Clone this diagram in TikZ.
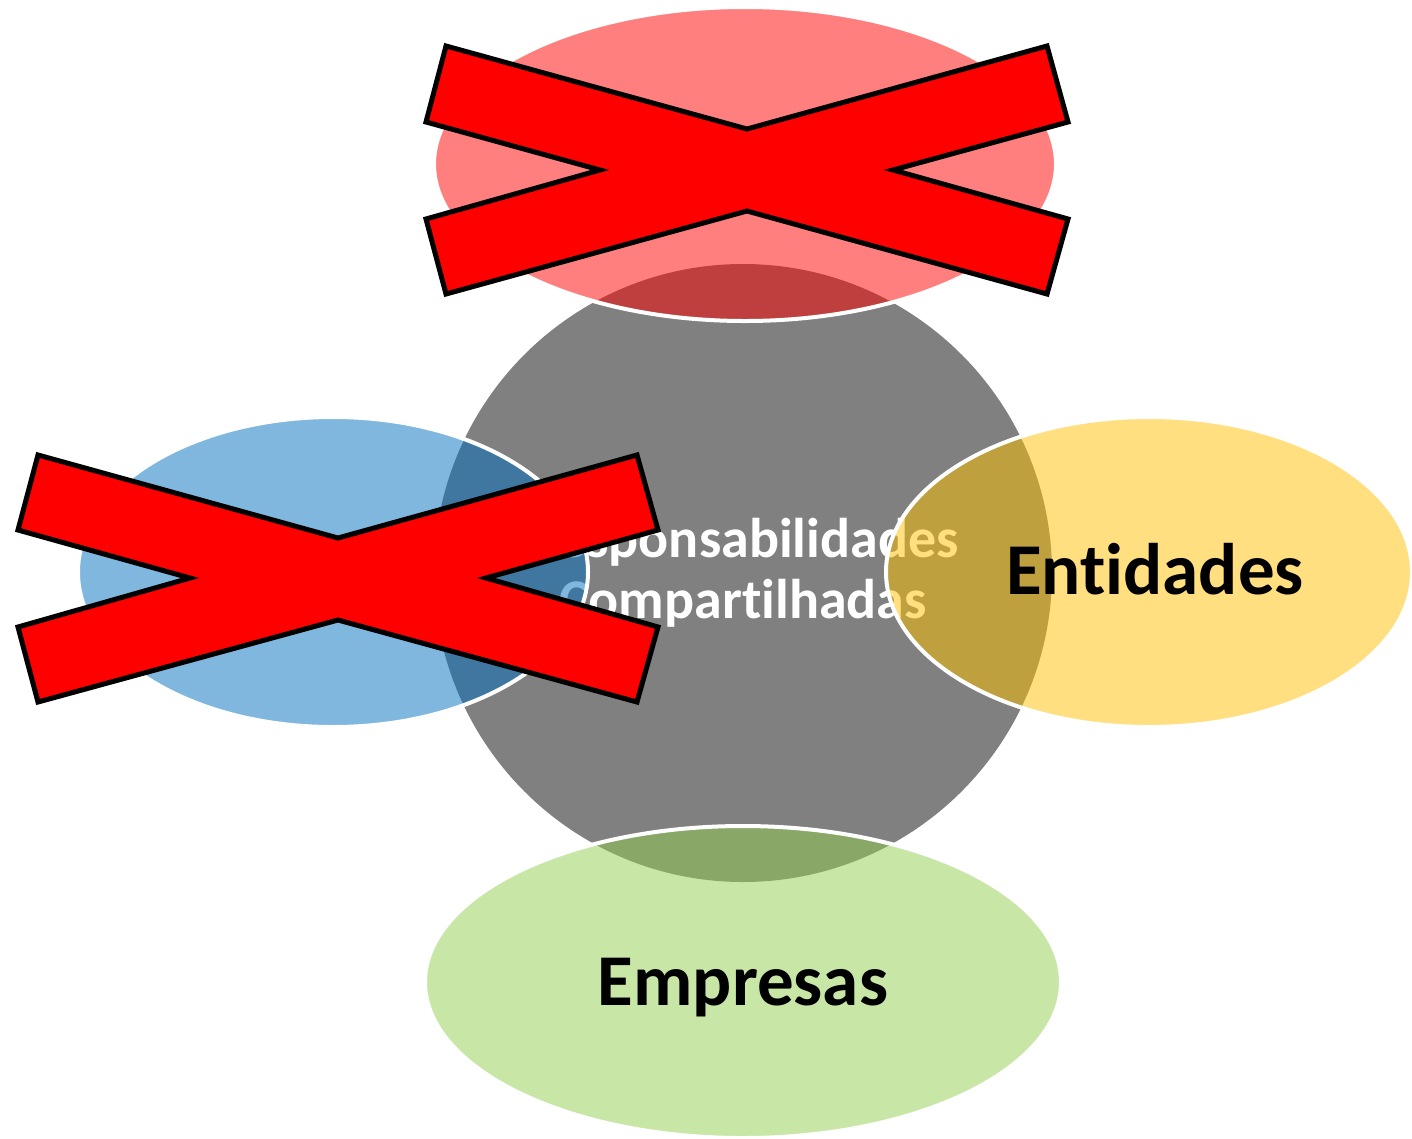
\documentclass[tikz,border=0pt]{standalone}
\usepackage{fontspec}
\setmainfont{Carlito}[Ligatures={NoCommon,NoContextual}]
\definecolor{midgray}{HTML}{808080}
\definecolor{satred}{HTML}{FF0000}
\definecolor{satblue}{HTML}{0070C0}
\definecolor{satyellow}{HTML}{FFC000}
\definecolor{satgreen}{HTML}{92D050}
\newcommand{\nolig}{\kern0pt }
\begin{document}
\begin{tikzpicture}[x=1bp,y=-1bp,
  sat/.style={draw=white, line width=4bp, fill opacity=0.5},
  crossmark/.style={fill=red, draw=black, line width=5bp, line join=miter},
  lbl/.style={font=\fontsize{73bp}{82bp}\selectfont\bfseries, text=black, anchor=base},
  ctr/.style={font=\fontsize{56bp}{62bp}\selectfont\bfseries, text=white, anchor=base}]
\fill[white] (0,0) rectangle (1412,1138);
\useasboundingbox (0,0) rectangle (1412,1138);
% central circle
\fill[midgray] (743,573) circle[radius=309bp];
\node[ctr] (c1) at (743,557) {Responsabilidades};
\node[ctr] (c2) at (743,618) {Compart\nolig ilhadas};
% satellites
\path[sat, fill=satred] (745,164) ellipse[x radius=311bp, y radius=157bp];
\path[sat, fill=satblue] (333,572) ellipse[x radius=255bp, y radius=155bp];
\path[sat, fill=satyellow] (1149,572) ellipse[x radius=263bp, y radius=155bp];
\path[sat, fill=satgreen] (743,982) ellipse[x radius=318bp, y radius=156bp];
\node[lbl] (ent) at (1155,594) {Ent\nolig idades};
\node[lbl] (emp) at (743,1005) {Empresas};
% crosses
\draw[crossmark] (446,46) -- (747,129) -- (1047,46) -- (1068,122) -- (893,170) -- (1068,219) -- (1047,294) -- (747,211) -- (446,294) -- (426,219) -- (600,170) -- (426,122) -- cycle;
\draw[crossmark] (38,455) -- (338,538) -- (637,455) -- (658,530) -- (486,578) -- (658,627) -- (637,702) -- (338,620) -- (38,702) -- (18,627) -- (190,578) -- (18,530) -- cycle;
\end{tikzpicture}
\end{document}
